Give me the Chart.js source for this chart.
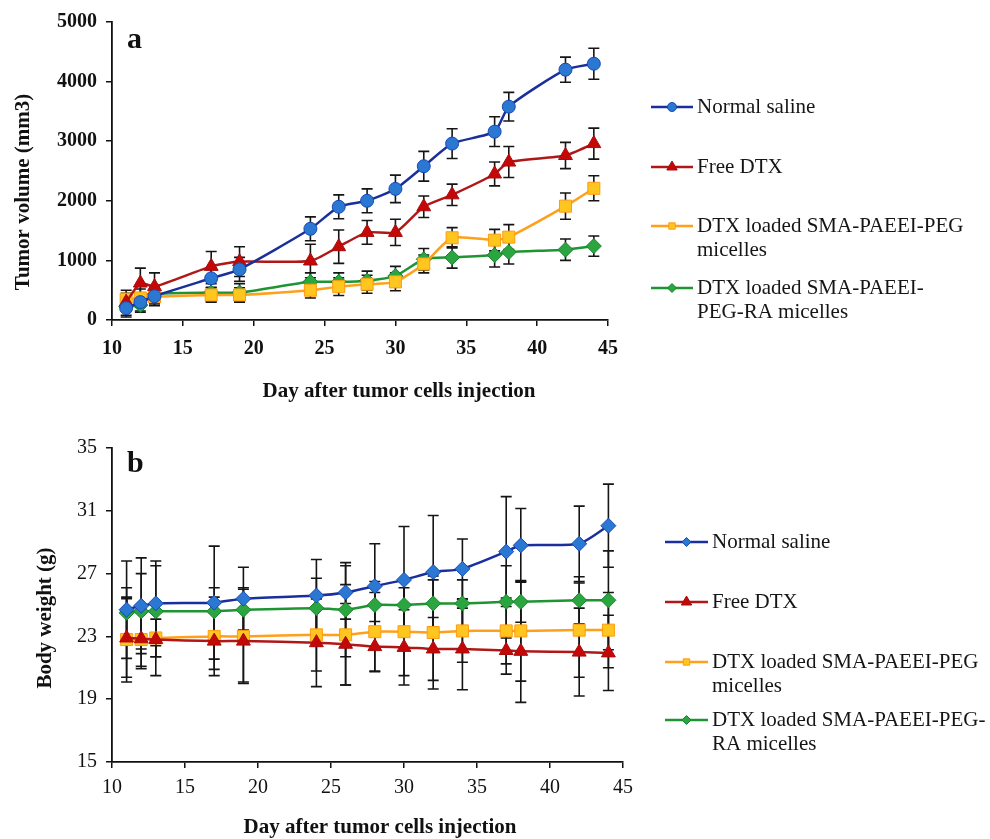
<!DOCTYPE html>
<html>
<head>
<meta charset="utf-8">
<title>Tumor volume and body weight</title>
<script src="https://cdn.jsdelivr.net/npm/chart.js@4.4.1/dist/chart.umd.min.js"></script>
<style>
  html, body { margin: 0; padding: 0; background: #fff; }
  canvas { display: block; }
</style>
</head>
<body>
<canvas id="tumor" width="990" height="420"></canvas>
<canvas id="weight" width="990" height="419"></canvas>
<script>
// days of measurement (x axis)
const days = [11, 12, 13, 17, 19, 24, 26, 28, 30, 32, 34, 37, 38, 42, 44];
const xTicks = [10, 15, 20, 25, 30, 35, 40, 45];

// panel a: tumor volume (mm3) and error bars
const salineVol = [200, 300, 400, 700, 850, 1530, 1900, 2000, 2200, 2580, 2960, 3160, 3580, 4200, 4300];
const salineVolErr = [150, 150, 150, 150, 200, 200, 200, 200, 230, 250, 250, 250, 240, 210, 260];
const freeVol = [300, 620, 560, 900, 980, 990, 1230, 1470, 1470, 1900, 2100, 2450, 2650, 2760, 2960];
const freeVolErr = [150, 250, 230, 250, 250, 280, 280, 200, 220, 180, 180, 200, 260, 220, 260];
const pegVol = [350, 370, 390, 420, 420, 500, 560, 600, 640, 940, 1380, 1340, 1390, 1910, 2210];
const pegVolErr = [150, 150, 150, 120, 120, 130, 150, 150, 150, 150, 170, 180, 210, 220, 210];
const raVol = [230, 250, 430, 460, 460, 640, 640, 660, 740, 1020, 1050, 1090, 1140, 1180, 1240];
const raVolErr = [150, 120, 150, 150, 150, 150, 150, 160, 160, 180, 180, 200, 200, 180, 170];

// panel b: body weight (g) and error bars
const salineWt = [24.7, 24.95, 25.1, 25.15, 25.4, 25.6, 25.8, 26.2, 26.6, 27.1, 27.3, 28.4, 28.8, 28.9, 30.05];
const salineWtErr = [3.1, 3.05, 2.7, 3.6, 2.0, 2.3, 1.7, 2.7, 3.4, 3.6, 1.9, 3.5, 2.35, 2.4, 2.65];
const freeWt = [22.9, 22.85, 22.8, 22.7, 22.7, 22.6, 22.5, 22.35, 22.3, 22.2, 22.2, 22.1, 22.05, 22.0, 21.95];
const freeWtErr = [2.5, 1.9, 2.3, 1.8, 2.6, 2.8, 2.6, 1.6, 2.4, 2.0, 2.6, 1.5, 3.25, 2.8, 2.4];
const pegWt = [22.8, 22.8, 22.9, 23.0, 23.0, 23.1, 23.1, 23.3, 23.3, 23.25, 23.35, 23.35, 23.35, 23.4, 23.4];
const pegWtErr = [2.7, 1.7, 1.2, 2.5, 3.0, 2.3, 3.2, 2.5, 2.8, 3.6, 2.0, 2.1, 3.2, 3.0, 2.4];
const raWt = [24.5, 24.6, 24.6, 24.6, 24.7, 24.8, 24.7, 25.0, 25.0, 25.1, 25.1, 25.2, 25.2, 25.3, 25.3];
const raWtErr = [1.6, 2.4, 2.9, 1.5, 1.4, 1.9, 3.0, 1.5, 1.6, 1.5, 1.5, 2.3, 1.3, 1.5, 3.15];

const legendTop = [
    ["Normal saline"],
    ["Free DTX"],
    ["DTX loaded SMA-PAEEI-PEG", "micelles"],
    ["DTX loaded SMA-PAEEI-", "PEG-RA micelles"],
];
const legendBottom = [
    ["Normal saline"],
    ["Free DTX"],
    ["DTX loaded SMA-PAEEI-PEG", "micelles"],
    ["DTX loaded SMA-PAEEI-PEG-", "RA micelles"],
];

const SERIF = '"Liberation Serif", "Times New Roman", serif';

// error bars drawn under the markers
const errorBarPlugin = {
    id: "errorBars",
    beforeDatasetsDraw(chart) {
        const { ctx } = chart;
        const xs = chart.scales.x;
        const ys = chart.scales.y;
        ctx.save();
        ctx.strokeStyle = "#151515";
        ctx.lineWidth = 1.6;
        chart.data.datasets.forEach((ds) => {
            if (!ds.errorBars) return;
            ds.data.forEach((pt, i) => {
                const err = ds.errorBars[i];
                const px = xs.getPixelForValue(pt.x);
                const top = ys.getPixelForValue(pt.y + err);
                const bot = ys.getPixelForValue(pt.y - err);
                ctx.beginPath();
                ctx.moveTo(px, top);
                ctx.lineTo(px, bot);
                ctx.moveTo(px - 5.5, top);
                ctx.lineTo(px + 5.5, top);
                ctx.moveTo(px - 5.5, bot);
                ctx.lineTo(px + 5.5, bot);
                ctx.stroke();
            });
        });
        ctx.restore();
    },
};

// legend on the right side, excel style (line + marker)
const sideLegendPlugin = {
    id: "sideLegend",
    afterDraw(chart, args, opts) {
        const { ctx } = chart;
        ctx.save();
        ctx.font = opts.font;
        ctx.textBaseline = "middle";
        opts.rows.forEach((row, i) => {
            const ds = chart.data.datasets[i];
            const y = opts.y[i];
            ctx.strokeStyle = ds.borderColor;
            ctx.lineWidth = 2.5;
            ctx.beginPath();
            ctx.moveTo(opts.x, y);
            ctx.lineTo(opts.x + opts.lineLen, y);
            ctx.stroke();
            ctx.fillStyle = ds.pointBackgroundColor;
            ctx.strokeStyle = ds.pointBorderColor;
            ctx.lineWidth = 1;
            Chart.helpers.drawPoint(ctx, {
                pointStyle: ds.pointStyle,
                radius: ds.pointStyle === "triangle" ? 6 : 4.5,
                rotation: 0,
                borderWidth: 1,
            }, opts.x + opts.lineLen / 2, y);
            ctx.fillStyle = "#151515";
            row.forEach((line, j) => {
                ctx.fillText(line, opts.x + opts.lineLen + 4, y + j * opts.lineGap);
            });
        });
        ctx.restore();
    },
};

// panel letter and axis captions
const panelTextPlugin = {
    id: "panelText",
    afterDraw(chart, args, opts) {
        const { ctx } = chart;
        ctx.save();
        ctx.fillStyle = "#111";
        ctx.font = "bold 30px " + SERIF;
        ctx.textBaseline = "alphabetic";
        ctx.fillText(opts.letter, opts.letterX, opts.letterY);
        ctx.font = "bold 21px " + SERIF;
        ctx.textAlign = "center";
        ctx.textBaseline = "middle";
        ctx.fillText(opts.xCaption, opts.xCaptionX, opts.xCaptionY);
        ctx.translate(opts.yCaptionX, opts.yCaptionY);
        ctx.rotate(-Math.PI / 2);
        ctx.fillText(opts.yCaption, 0, 0);
        ctx.restore();
    },
};

const colors = {
    saline: { line: "#1a2f9c", fill: "#2a78d2", border: "#1848b8" },
    free: { line: "#b01818", fill: "#c40808", border: "#a80c0c" },
    peg: { line: "#ffa01a", fill: "#ffc61f", border: "#ff9a10" },
    ra: { line: "#1f9433", fill: "#2aa540", border: "#17852c" },
};

function series(label, values, errors, c, style, radius) {
    return {
        label: label,
        data: days.map((d, i) => ({ x: d, y: values[i] })),
        errorBars: errors,
        borderColor: c.line,
        backgroundColor: c.fill,
        pointBackgroundColor: c.fill,
        pointBorderColor: c.border,
        pointBorderWidth: 1,
        pointStyle: style,
        pointRadius: radius,
        borderWidth: 2.5,
        tension: 0.2,
        fill: false,
    };
}

function axes(yMin, yMax, yStep, bold, tickPadX, xHeight) {
    const tickFont = { family: SERIF, size: 20, weight: bold ? "bold" : "normal" };
    return {
        x: {
            type: "linear",
            min: 10,
            max: 45,
            afterBuildTicks: (s) => { s.ticks = xTicks.map((v) => ({ value: v })); },
            afterFit: (s) => { s.height = xHeight; },
            ticks: { color: "#111", font: tickFont, padding: tickPadX, maxRotation: 0, callback: (v) => String(v) },
            grid: { display: true, drawOnChartArea: false, color: "#111", tickLength: 6, lineWidth: 1.5 },
            border: { display: true, color: "#111", width: 1.8 },
        },
        y: {
            min: yMin,
            max: yMax,
            ticks: { stepSize: yStep, color: "#111", font: tickFont, padding: 9, callback: (v) => String(v) },
            afterFit: (s) => { s.width = 112; },
            grid: { display: true, drawOnChartArea: false, color: "#111", tickLength: 6, lineWidth: 1.5 },
            border: { display: true, color: "#111", width: 1.8 },
        },
    };
}

new Chart(document.getElementById("tumor"), {
    type: "line",
    data: {
        datasets: [
            series("Normal saline", salineVol, salineVolErr, colors.saline, "circle", 6.5),
            series("Free DTX", freeVol, freeVolErr, colors.free, "triangle", 8),
            series("DTX loaded SMA-PAEEI-PEG micelles", pegVol, pegVolErr, colors.peg, "rect", 8.5),
            series("DTX loaded SMA-PAEEI-PEG-RA micelles", raVol, raVolErr, colors.ra, "rectRot", 7.5),
        ],
    },
    options: {
        responsive: false,
        animation: false,
        events: [],
        layout: { padding: { top: 22, right: 382, left: 0, bottom: 0 } },
        scales: axes(0, 5000, 1000, true, 11, 100),
        plugins: {
            legend: { display: false },
            tooltip: { enabled: false },
            sideLegend: { x: 651, y: [107, 167, 226, 288], lineLen: 42, lineGap: 24, rows: legendTop, font: "21px " + SERIF },
            panelText: {
                letter: "a", letterX: 127, letterY: 48,
                xCaption: "Day after tumor cells injection", xCaptionX: 399, xCaptionY: 392,
                yCaption: "Tumor volume (mm3)", yCaptionX: 24, yCaptionY: 192,
            },
        },
    },
    plugins: [errorBarPlugin, sideLegendPlugin, panelTextPlugin],
});

new Chart(document.getElementById("weight"), {
    type: "line",
    data: {
        datasets: [
            series("Normal saline", salineWt, salineWtErr, colors.saline, "rectRot", 7.5),
            series("Free DTX", freeWt, freeWtErr, colors.free, "triangle", 8),
            series("DTX loaded SMA-PAEEI-PEG micelles", pegWt, pegWtErr, colors.peg, "rect", 8.5),
            series("DTX loaded SMA-PAEEI-PEG-RA micelles", raWt, raWtErr, colors.ra, "rectRot", 7.5),
        ],
    },
    options: {
        responsive: false,
        animation: false,
        events: [],
        layout: { padding: { top: 28, right: 367, left: 0, bottom: 0 } },
        scales: axes(15, 35, 4, false, 8, 77),
        plugins: {
            legend: { display: false },
            tooltip: { enabled: false },
            sideLegend: { x: 665, y: [122, 182, 242, 300], lineLen: 43, lineGap: 24, rows: legendBottom, font: "21px " + SERIF },
            panelText: {
                letter: "b", letterX: 127, letterY: 52,
                xCaption: "Day after tumor cells injection", xCaptionX: 380, xCaptionY: 408,
                yCaption: "Body weight (g)", yCaptionX: 46, yCaptionY: 198,
            },
        },
    },
    plugins: [errorBarPlugin, sideLegendPlugin, panelTextPlugin],
});
</script>
</body>
</html>
